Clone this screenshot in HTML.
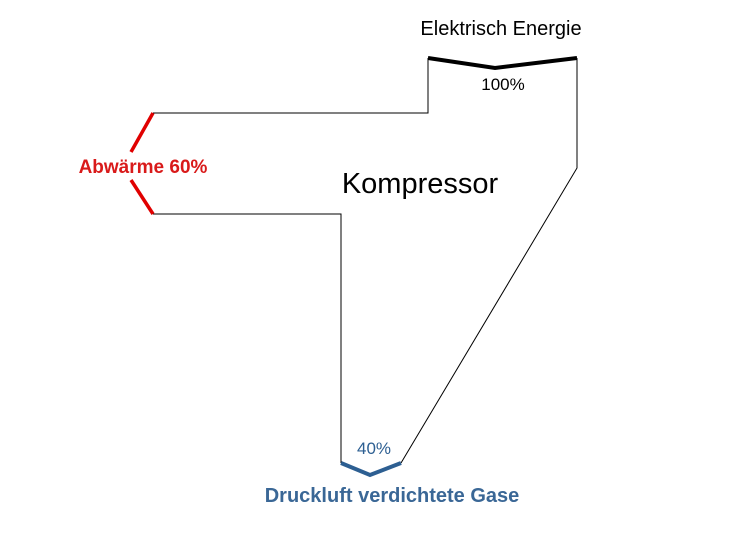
<!DOCTYPE html>
<html><head><meta charset="utf-8"><style>
html,body{margin:0;padding:0;background:#fff;}
svg{display:block;}
text{font-family:"Liberation Sans",sans-serif;}
</style></head><body>
<svg width="754" height="533" viewBox="0 0 754 533" xmlns="http://www.w3.org/2000/svg">
<rect width="754" height="533" fill="#fff"/>
<g fill="none" stroke="#000" stroke-width="1">
<polyline points="153,113 428,113 428,58"/>
<polyline points="577,58 577,168 401,463"/>
<polyline points="153,214 341,214 341,463"/>
</g>
<polyline points="428,58 495,68 577,58" fill="none" stroke="#000" stroke-width="4"/>
<polyline points="153,113 131,152" fill="none" stroke="#e00000" stroke-width="3.5"/>
<polyline points="131,180 153,214" fill="none" stroke="#e00000" stroke-width="3.5"/>
<polyline points="341,463 370,475 401,463" fill="none" stroke="#2d5f92" stroke-width="4"/>
<text x="501" y="35" font-size="20" text-anchor="middle" fill="#000">Elektrisch Energie</text>
<text x="503" y="90" font-size="17" text-anchor="middle" fill="#000">100%</text>
<text x="420" y="193" font-size="29" text-anchor="middle" fill="#000">Kompressor</text>
<text x="143" y="173" font-size="19" font-weight="bold" text-anchor="middle" fill="#d91a1a">Abwärme 60%</text>
<text x="374" y="454" font-size="17" text-anchor="middle" fill="#2d5f92">40%</text>
<text x="392" y="502" font-size="20" font-weight="bold" text-anchor="middle" fill="#3a6796">Druckluft verdichtete Gase</text>
</svg>
</body></html>
